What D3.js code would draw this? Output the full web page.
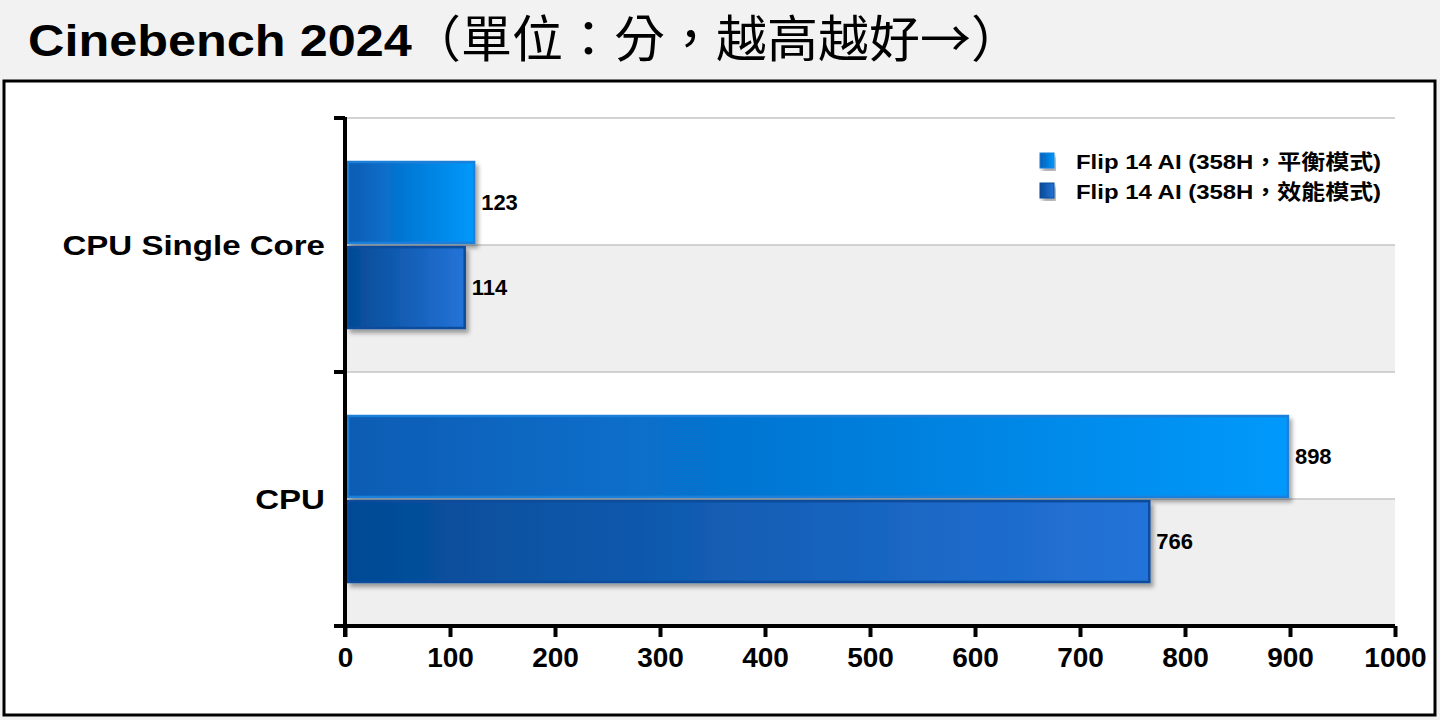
<!DOCTYPE html>
<html>
<head>
<meta charset="utf-8">
<script src="https://cdn.jsdelivr.net/npm/d3@7"></script>
<style>
  body { margin: 0; background: #f2f2f2; }
  svg { display: block; font-family: "Liberation Sans", Arial, "Noto Sans CJK TC", sans-serif; }
</style>
</head>
<body>
<script>
// data
var categories = ["CPU Single Core", "CPU"];
var seriesNames = ["Flip 14 AI (358H\uFF0C平衡模式)", "Flip 14 AI (358H\uFF0C效能模式)"];
var balanced = [123, 898];
var performance = [114, 766];
var xTicks = [0, 100, 200, 300, 400, 500, 600, 700, 800, 900, 1000];

var W = 1440, H = 720;
var plotL = 345, plotR = 1395, plotT = 118, plotB = 626;

var svg = d3.select("body").append("svg")
  .attr("width", W)
  .attr("height", H);

// the reference text is a bit wider than the fonts we have, so widen it
function stretch(sel, k){
  sel.each(function(){
    var w = this.getComputedTextLength();
    d3.select(this).attr("textLength", w * k).attr("lengthAdjust", "spacingAndGlyphs");
  });
}

var defs = svg.append("defs");
var grads = [["#0a5cb4", "#0099fb"], ["#034a94", "#2473d8"]];
grads.forEach(function(g, i){
  var lg = defs.append("linearGradient").attr("id", "g" + i)
    .attr("x1", "0%").attr("x2", "100%").attr("y1", "0%").attr("y2", "0%");
  lg.append("stop").attr("offset", "0%").attr("stop-color", g[0]);
  lg.append("stop").attr("offset", "100%").attr("stop-color", g[1]);
});
var f = defs.append("filter").attr("id", "sh")
  .attr("x", "-5%").attr("y", "-10%").attr("width", "115%").attr("height", "130%");
f.append("feDropShadow").attr("dx", 3).attr("dy", 4).attr("stdDeviation", 2)
  .attr("flood-color", "#000").attr("flood-opacity", 0.35);

// title
var t1 = svg.append("text").attr("x", 28).attr("y", 56)
  .attr("font-size", 45).attr("font-weight", "bold").text("Cinebench 2024");
stretch(t1, 1.12);
var t2 = svg.append("text").attr("x", 410).attr("y", 57)
  .attr("font-family", "Noto Sans CJK TC").attr("font-size", 50)
  .text("（單位：分，越高越好→）");
stretch(t2, 1.02);

// chart box
svg.append("rect").attr("x", 4).attr("y", 81).attr("width", 1431).attr("height", 634)
  .attr("fill", "#fff").attr("stroke", "#000").attr("stroke-width", 3);

var x = d3.scaleLinear().domain([0, 1000]).range([plotL, plotR]);
var y = d3.scaleBand().domain(categories).range([plotT, plotB]);
var inner = d3.scaleBand().domain(seriesNames).range([44, 210]).paddingInner(0.05);

// gray half bands + grid lines
categories.forEach(function(c){
  var y0 = y(c), mid = y0 + y.bandwidth() / 2;
  svg.append("rect").attr("x", plotL).attr("y", mid).attr("width", plotR - plotL)
    .attr("height", y.bandwidth() / 2).attr("fill", "#efefef");
  [y0, mid].forEach(function(v){
    svg.append("line").attr("x1", plotL).attr("x2", plotR).attr("y1", v).attr("y2", v)
      .attr("stroke", "#c4c4c4").attr("stroke-width", 1.5);
  });
});

// bars
var allSeries = [balanced, performance];
var borders = ["#1b80da", "#0d4c9c"];
allSeries.forEach(function(vals, si){
  var g = svg.append("g");
  g.selectAll("rect").data(vals).enter().append("rect")
    .attr("x", x(0) + 3)
    .attr("y", function(d, i){ return y(categories[i]) + inner(seriesNames[si]); })
    .attr("width", function(d){ return x(d) - x(0) - 3; })
    .attr("height", inner.bandwidth())
    .attr("fill", "url(#g" + si + ")")
    .attr("stroke", borders[si]).attr("stroke-width", 2.5)
    .attr("filter", "url(#sh)");
  g.selectAll("text").data(vals).enter().append("text")
    .attr("x", function(d){ return x(d) + 7; })
    .attr("y", function(d, i){ return y(categories[i]) + inner(seriesNames[si]) + inner.bandwidth() / 2; })
    .attr("dy", "0.36em")
    .attr("font-size", 22).attr("font-weight", "bold")
    .text(function(d){ return d; });
});

// x axis
var xAxis = svg.append("g").attr("transform", "translate(0," + plotB + ")")
  .call(d3.axisBottom(x).tickValues(xTicks).tickFormat(d3.format("d"))
    .tickSize(11).tickPadding(10).tickSizeOuter(0));
xAxis.select(".domain").attr("stroke-width", 4).attr("d", "M" + (plotL - 10) + ",0H" + plotR);
xAxis.selectAll(".tick line").attr("stroke-width", 4);
xAxis.selectAll(".tick text").attr("font-size", 28).attr("font-weight", "bold")
  .attr("font-family", "Liberation Sans, Arial, sans-serif").attr("fill", "#000");

// y axis
svg.append("line").attr("x1", plotL).attr("x2", plotL).attr("y1", plotT - 1).attr("y2", plotB + 11)
  .attr("stroke", "#000").attr("stroke-width", 4);
categories.map(function(c){ return y(c); }).concat([plotB]).forEach(function(v){
  svg.append("line").attr("x1", plotL - 11).attr("x2", plotL).attr("y1", v).attr("y2", v)
    .attr("stroke", "#000").attr("stroke-width", 4);
});
var ylab = svg.selectAll(".ylab").data(categories).enter().append("text")
  .attr("x", 325)
  .attr("y", function(d){ return y(d) + y.bandwidth() / 2; })
  .attr("dy", "0.36em").attr("text-anchor", "end")
  .attr("font-size", 28).attr("font-weight", "bold")
  .text(function(d){ return d; });
stretch(ylab, 1.18);

// legend
var leg = svg.append("g").attr("transform", "translate(1040,153)");
seriesNames.forEach(function(s, i){
  var r = leg.append("g").attr("transform", "translate(0," + i * 30 + ")");
  r.append("rect").attr("width", 14).attr("height", 15)
    .attr("fill", "url(#g" + i + ")").attr("stroke", borders[i]).attr("stroke-width", 1)
    .attr("filter", "url(#sh)");
  var lt = r.append("text").attr("x", 36).attr("y", 8).attr("dy", "0.36em")
    .attr("font-size", 21).attr("font-weight", "bold").text(s);
  stretch(lt, 1.14);
});
</script>
</body>
</html>
